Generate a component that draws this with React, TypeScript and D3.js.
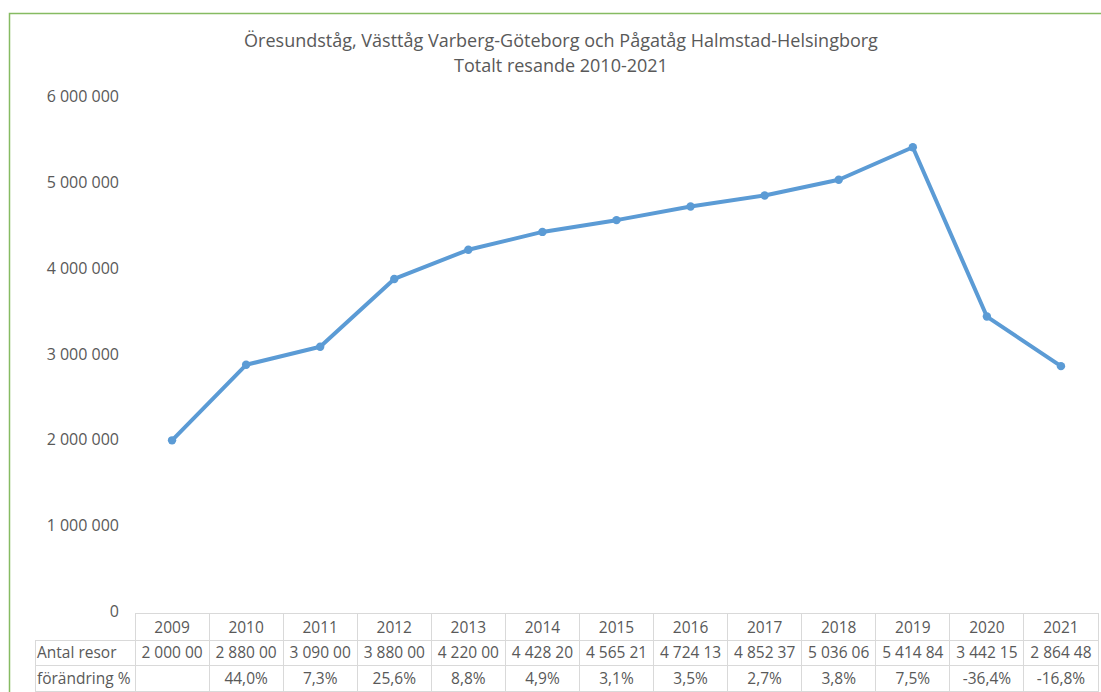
import { useEffect, useRef } from "react";
import * as d3 from "d3";

const years = ["2009", "2010", "2011", "2012", "2013", "2014", "2015", "2016", "2017", "2018", "2019", "2020", "2021"];
const travels = [2000000, 2880000, 3090000, 3880000, 4220000, 4428200, 4565210, 4724130, 4852370, 5036060, 5414840, 3442150, 2864480];
const changePct = [null, 44.0, 7.3, 25.6, 8.8, 4.9, 3.1, 3.5, 2.7, 3.8, 7.5, -36.4, -16.8];
const yTicks = [0, 1000000, 2000000, 3000000, 4000000, 5000000, 6000000];
const rowLabels = ["Antal resor", "förändring %"];
const titleLines = ["Öresundståg, Västtåg Varberg-Göteborg och Pågatåg Halmstad-Helsingborg", "Totalt resande 2010-2021"];

const W = 1101;
const H = 692;
const FONT = "'Open Sans', sans-serif";

export default function App() {
  const ref = useRef<SVGSVGElement>(null);

  useEffect(() => {
    const svg = d3.select(ref.current);
    svg.selectAll("*").remove();

    const tableLeft = 135;
    const tableRight = 1098;
    const labelLeft = 35;
    const rowTops = [613, 640, 665, 692];

    const x = d3.scaleBand().domain(years).range([tableLeft, tableRight]).padding(0);
    const y = d3.scaleLinear().domain([0, 6000000]).range([612, 97]);

    const spaced = (v: number) => d3.format(",")(v).replace(/,/g, " ");

    // frame
    svg.append("path")
      .attr("d", `M9.5,${H} L9.5,13.5 L${W},13.5`)
      .attr("fill", "none")
      .attr("stroke", "#86bb62")
      .attr("stroke-width", 1.5);

    // title
    svg.append("g")
      .selectAll("text")
      .data(titleLines)
      .join("text")
      .attr("x", 561)
      .attr("y", (d, i) => 47 + i * 25)
      .attr("text-anchor", "middle")
      .attr("font-family", FONT)
      .attr("font-size", 18)
      .attr("fill", "#595959")
      .text((d) => d);

    // y axis labels
    svg.append("g")
      .selectAll("text")
      .data(yTicks)
      .join("text")
      .attr("x", 119)
      .attr("y", (d) => y(d) + 5)
      .attr("text-anchor", "end")
      .attr("font-family", FONT)
      .attr("font-size", 16)
      .attr("fill", "#595959")
      .text((d) => spaced(d));

    // table grid
    const grid = svg.append("g").attr("stroke", "#d9d9d9").attr("stroke-width", 1).attr("shape-rendering", "crispEdges");
    grid.append("line").attr("x1", tableLeft).attr("x2", tableRight).attr("y1", rowTops[0]).attr("y2", rowTops[0]);
    [rowTops[1], rowTops[2], rowTops[3] - 1].forEach((ry) => {
      grid.append("line").attr("x1", labelLeft).attr("x2", tableRight).attr("y1", ry).attr("y2", ry);
    });
    grid.append("line").attr("x1", labelLeft).attr("x2", labelLeft).attr("y1", rowTops[1]).attr("y2", H);
    years.forEach((yr) => {
      grid.append("line").attr("x1", x(yr)!).attr("x2", x(yr)!).attr("y1", rowTops[0]).attr("y2", H);
    });
    grid.append("line").attr("x1", tableRight).attr("x2", tableRight).attr("y1", rowTops[0]).attr("y2", H);

    const cellText = (g: d3.Selection<SVGGElement, unknown, null, undefined>) =>
      g.attr("font-family", FONT).attr("font-size", 15.5).attr("fill", "#595959");

    // header row
    svg.append("g").call(cellText)
      .selectAll("text")
      .data(years)
      .join("text")
      .attr("x", (d) => x(d)! + x.bandwidth() / 2)
      .attr("y", 633)
      .attr("text-anchor", "middle")
      .text((d) => d);

    // row labels
    svg.append("g").call(cellText)
      .selectAll("text")
      .data(rowLabels)
      .join("text")
      .attr("x", labelLeft + 2)
      .attr("y", (d, i) => 658 + i * 26)
      .text((d) => d);

    // values row (cut like the narrow cells)
    svg.append("g").call(cellText)
      .selectAll("text")
      .data(travels)
      .join("text")
      .attr("x", (d, i) => x(years[i])! + x.bandwidth() / 2)
      .attr("y", 658)
      .attr("text-anchor", "middle")
      .text((d) => spaced(d).slice(0, 8));

    // change row
    svg.append("g").call(cellText)
      .selectAll("text")
      .data(changePct)
      .join("text")
      .attr("x", (d, i) => x(years[i])! + x.bandwidth() / 2)
      .attr("y", 684)
      .attr("text-anchor", "middle")
      .text((d) => (d === null ? "" : d.toFixed(1).replace(".", ",") + "%"));

    // line
    const line = d3.line<number>()
      .x((d, i) => x(years[i])! + x.bandwidth() / 2)
      .y((d) => y(d));

    svg.append("path")
      .datum(travels)
      .attr("d", line)
      .attr("fill", "none")
      .attr("stroke", "#5b9bd5")
      .attr("stroke-width", 4)
      .attr("stroke-linejoin", "round");

    svg.append("g")
      .selectAll("circle")
      .data(travels)
      .join("circle")
      .attr("cx", (d, i) => x(years[i])! + x.bandwidth() / 2)
      .attr("cy", (d) => y(d))
      .attr("r", 4.2)
      .attr("fill", "#5b9bd5");
  }, []);

  return (
    <svg
      ref={ref}
      width={W}
      height={H}
      style={{ position: "absolute", left: 0, top: 0, background: "#fff" }}
    />
  );
}
